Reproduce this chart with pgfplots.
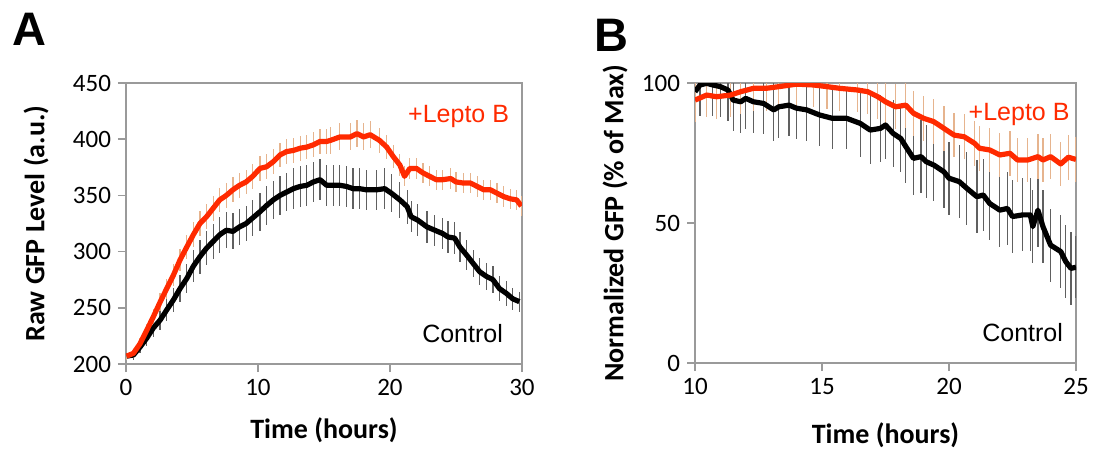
\documentclass[border=0pt]{standalone}
\usepackage{pgfplots}
\pgfplotsset{compat=1.18}
\usepackage{pgfplotstable}
\usepackage{fontspec}
\setmainfont{Carlito}
\newfontfamily\arial{Liberation Sans}
\definecolor{lred}{HTML}{FF2A00}
\definecolor{tanbar}{HTML}{E6B48E}
\definecolor{graybar}{HTML}{606060}
\definecolor{axgray}{HTML}{9A9A9A}

\pgfplotstableread{
x y e
0.05 207 3
0.56 209.5 4
1.06 218 5
1.57 230 6
2.07 242 7
2.58 255 8
3.08 267 9
3.59 279 10
4.09 292.5 10
4.6 304 11
5.1 315 11
5.6 325 11
6.1 331 11
6.6 338.5 11
7.1 346 11
7.6 350 11
8.1 355 11
8.6 359 11
9.1 362 11
9.6 367 11
10.15 374 11
10.65 375.5 11
11.16 380 11
11.67 386 11
12.17 389 11
12.68 390 11
13.2 392 11
13.7 393 11
14.2 395 11
14.7 398 11
15.2 398 11
15.5 399 12
16.2 402 12
17.0 402 12
17.5 405 12
18.0 402 12
18.5 404 12
19.2 399 11
19.75 393 11
20.25 384.5 10
20.75 377 10
21.1 367 9
21.5 374 9
22.0 374 9
22.5 370 9
23.0 367 9
23.5 364 9
24.0 364 9
24.6 365 9
25.0 362 9
25.55 361 9
26.1 361 9
26.6 358 9
27.1 355 9
27.6 355 9
28.1 352 9
28.6 349 9
29.1 347 9
29.6 346 9
29.95 340.5 9
}\redA

\pgfplotstableread{
x y e
0.05 207 3
0.56 208 4
1.06 215 5
1.57 223 7
2.07 232 8
2.58 239 9
3.08 248 10
3.59 257 11
4.09 267 12
4.6 276 13
5.1 287 14
5.6 295.5 15
6.1 303 15
6.6 309 16
7.1 315 16
7.6 319 16
8.1 318 16
8.6 322 16
9.1 325 16
9.6 330 16
10.15 335.5 17
10.65 341 17
11.16 346 17
11.67 350 17
12.17 353 17
12.68 356 18
13.2 358 18
13.7 359 18
14.2 362 18
14.7 364 18
15.2 359 18
15.7 359 18
16.2 359 18
16.7 358 18
17.2 356 18
17.7 356 18
18.2 355 18
19.0 355 18
19.6 356 18
20.1 352 17
20.75 346 16
21.3 340 15
21.6 331 14
22.1 328 14
22.8 322 14
23.4 319 14
24.0 316 14
24.4 313 14
24.9 312 14
25.3 304 13
25.8 297 13
26.3 289.5 12
26.8 282 12
27.3 278 12
27.8 275 12
28.3 267 11
28.8 263 11
29.3 258 10
29.8 255.5 9
}\blackA

\pgfplotstableread{
x y e
10.0 93.9 8
10.46 95.7 8
10.85 95.1 8
11.4 95.7 8
11.8 96.9 8
12.3 98.1 8
12.8 98.1 8
13.3 98.7 8
14.0 99.6 8
14.66 99.3 8
15.2 98.7 8
15.7 98.1 8
16.4 97.5 8
16.8 96.9 8
17.2 95.1 8
17.5 93.3 8
17.9 91.5 8
18.3 92.1 8
18.6 89.2 8
19.0 87.4 8
19.4 86.2 8
19.8 83.8 8
20.2 81.4 8
20.6 80.8 8
21.0 78.5 8
21.2 76.7 8
21.6 76.1 8
22.0 74.3 8
22.4 74.9 8
22.7 72.5 8
23.1 72.5 8
23.5 73.7 8
23.7 72.5 8
24.0 73.7 8
24.4 71.1 8
24.7 73.5 8
25.0 72.7 8
}\redB

\pgfplotstableread{
x y e
10.0 96.9 11
10.2 99.3 11
10.46 99.9 11
10.7 99.3 11
11.0 98.7 11
11.3 97.5 11
11.5 93.9 11
11.8 93.3 11
12.0 94.5 11
12.3 93.3 11
12.7 92.7 11
13.1 90.4 11
13.3 91.5 11
13.7 92.1 11
14.0 91.0 11
14.4 90.4 11
14.9 88.6 11
15.4 87.4 11
15.97 87.4 11
16.5 85.6 12
16.9 83.2 12
17.3 83.8 12
17.5 85.0 12
17.8 82.0 12
18.1 80.2 12
18.3 77.3 13
18.6 73.1 13
18.9 73.7 13
19.1 71.9 13
19.4 70.7 13
19.8 68.3 13
20.0 66.0 13
20.4 64.8 13
20.7 62.4 13
21.1 59.4 13
21.35 60.0 13
21.6 57.0 13
22.0 54.6 13
22.3 55.2 13
22.5 52.3 13
22.9 52.9 13
23.2 52.9 13
23.3 48.7 13
23.5 54.6 13
23.7 48.7 13
24.0 42.1 13
24.4 39.8 13
24.6 36.2 13
24.8 33.8 13
25.0 34.2 11
}\blackB

\pgfplotsset{
  panel/.style={
    scale only axis,
    no markers,
    axis line style={axgray, line width=0.8pt},
    tick style={axgray, line width=0.8pt},
    tick align=outside,
    major tick length=4pt,
    xtick pos=bottom, ytick pos=left,
    ticklabel style={font=\fontsize{12.5}{14}\selectfont},
    /pgf/number format/assume math mode=true,
    every axis x label/.style={at={(axis description cs:0.5,0)}, anchor=center,
      font=\fontsize{14}{16}\selectfont\bfseries},
    every axis y label/.style={at={(axis description cs:0,0.5)}, anchor=center, rotate=90,
      font=\fontsize{14}{16}\selectfont\bfseries},
  },
  bars/.style={draw=none, mark=none, forget plot,
    error bars/.cd, y dir=both, y explicit, error mark=none,
    error bar style={line width=0.6pt, draw=#1}},
}

\begin{document}
\begin{tikzpicture}
\path[use as bounding box] (-63pt,-44pt) rectangle (484pt,182pt);
\node[font=\arial\fontsize{23.5}{26}\selectfont\bfseries, anchor=west, inner sep=0pt] at (-57pt,167.5pt) {A};
\node[font=\arial\fontsize{23.5}{26}\selectfont\bfseries, anchor=west, inner sep=0pt] at (234pt,164.5pt) {B};

\begin{axis}[panel, at={(0pt,0pt)}, anchor=south west,
  width=198pt, height=140.5pt,
  xmin=0, xmax=30, ymin=200, ymax=450,
  xtick={0,10,20,30}, ytick={200,250,...,450},
  xlabel={Time (hours)}, ylabel={Raw GFP Level (a.u.)},
  xlabel style={yshift=-33pt},
  ylabel style={yshift=45pt},
]
\addplot[bars=graybar] table[x=x, y=y, y error=e] {\blackA};
\addplot[bars=tanbar] table[x=x, y=y, y error=e] {\redA};
\addplot[black, mark=none, line width=2.6pt, line join=round] table[x=x, y=y] {\blackA};
\addplot[lred, mark=none, line width=2.6pt, line join=round] table[x=x, y=y] {\redA};
\node[font=\arial\fontsize{12.5}{14}\selectfont, text=lred] at (axis cs:25.2,420.6) {+Lepto B};
\node[font=\arial\fontsize{12.5}{14}\selectfont] at (axis cs:25.5,226.7) {Control};
\end{axis}

\begin{axis}[panel, at={(284.5pt,0.5pt)}, anchor=south west,
  width=190.5pt, height=140pt,
  xmin=10, xmax=25, ymin=0, ymax=100,
  xtick={10,15,20,25}, ytick={0,50,100},
  xlabel={Time (hours)}, ylabel={Normalized GFP (\% of Max)},
  xlabel style={yshift=-36pt},
  ylabel style={yshift=40pt},
]
\addplot[bars=graybar] table[x=x, y=y, y error=e] {\blackB};
\addplot[bars=tanbar] table[x=x, y=y, y error=e] {\redB};
\addplot[black, mark=none, line width=2.6pt, line join=round] table[x=x, y=y] {\blackB};
\addplot[lred, mark=none, line width=2.6pt, line join=round] table[x=x, y=y] {\redB};
\node[font=\arial\fontsize{12.5}{14}\selectfont, text=lred] at (axis cs:22.76,88.9) {+Lepto B};
\node[font=\arial\fontsize{12.5}{14}\selectfont] at (axis cs:22.9,10.7) {Control};
\end{axis}
\end{tikzpicture}
\end{document}
